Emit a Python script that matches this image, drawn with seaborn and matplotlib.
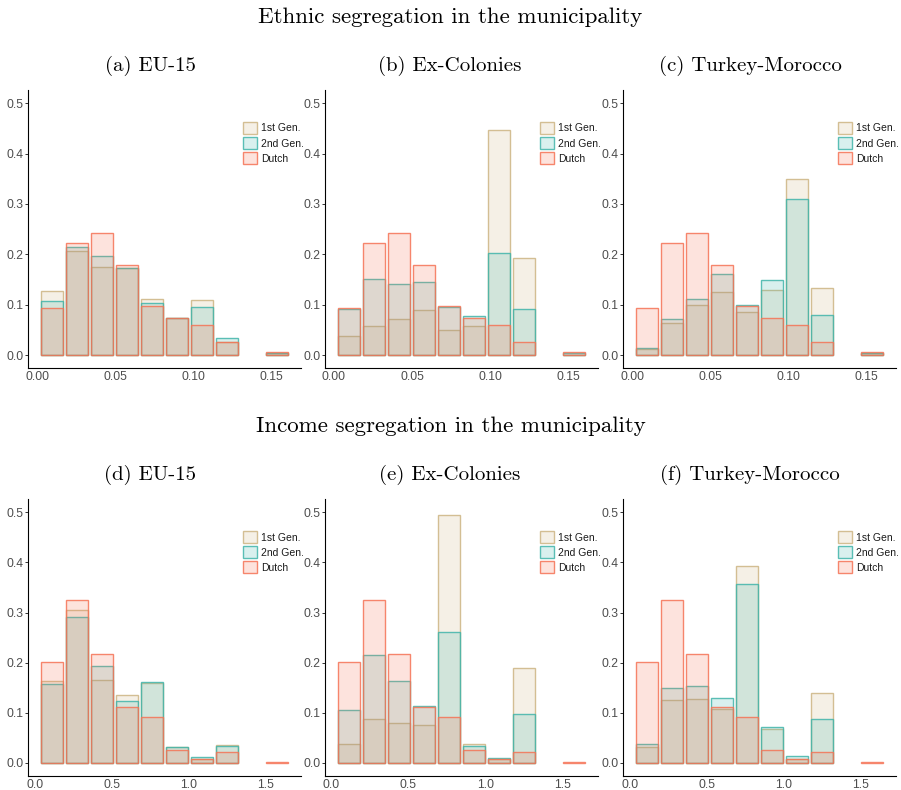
"""Overlaid share histograms: ethnic and income segregation by origin group."""

import matplotlib
matplotlib.use("Agg")
import matplotlib.pyplot as plt
import seaborn as sns
import numpy as np
import pandas as pd
from matplotlib.colors import to_rgba
from matplotlib.patches import Patch

sns.set_style("white")
plt.rcParams['font.family'] = ['Liberation Sans', 'DejaVu Sans']

# Groups and colours
groups = ["1st Gen.", "2nd Gen.", "Dutch"]
group_colors = ["#CDB482", "#41B4AA", "#F57355"]

# Bin midpoints of the segregation index
ethnic_mids = [0.0095, 0.0255, 0.0415, 0.0575, 0.0735, 0.0895, 0.1055, 0.1215, 0.1375, 0.1535]
income_mids = [0.113, 0.2755, 0.438, 0.6005, 0.763, 0.9255, 1.088, 1.2505, 1.413, 1.5755]

# Shares per bin, ethnic segregation
ethnic_dutch = [0.093, 0.222, 0.242, 0.179, 0.097, 0.073, 0.060, 0.027, 0.0, 0.007]
ethnic_eu15_1st = [0.128, 0.207, 0.175, 0.173, 0.112, 0.073, 0.110, 0.027, 0.0, 0.004]
ethnic_eu15_2nd = [0.107, 0.215, 0.197, 0.173, 0.103, 0.074, 0.095, 0.035, 0.0, 0.004]
ethnic_col_1st = [0.038, 0.057, 0.072, 0.090, 0.050, 0.058, 0.446, 0.193, 0.0, 0.001]
ethnic_col_2nd = [0.091, 0.151, 0.142, 0.146, 0.095, 0.077, 0.203, 0.091, 0.0, 0.005]
ethnic_tm_1st = [0.012, 0.064, 0.100, 0.125, 0.085, 0.129, 0.350, 0.133, 0.0, 0.004]
ethnic_tm_2nd = [0.015, 0.072, 0.111, 0.161, 0.099, 0.149, 0.310, 0.079, 0.0, 0.005]

# Shares per bin, income segregation
income_dutch = [0.201, 0.326, 0.217, 0.112, 0.091, 0.026, 0.007, 0.022, 0.0, 0.001]
income_eu15_1st = [0.163, 0.305, 0.165, 0.136, 0.160, 0.032, 0.007, 0.035, 0.0, 0.0]
income_eu15_2nd = [0.158, 0.291, 0.194, 0.124, 0.162, 0.032, 0.011, 0.034, 0.0, 0.0]
income_col_1st = [0.038, 0.087, 0.080, 0.075, 0.495, 0.037, 0.007, 0.189, 0.0, 0.0]
income_col_2nd = [0.106, 0.216, 0.163, 0.113, 0.261, 0.034, 0.009, 0.098, 0.0, 0.0]
income_tm_1st = [0.032, 0.126, 0.128, 0.107, 0.393, 0.068, 0.007, 0.140, 0.0, 0.0]
income_tm_2nd = [0.038, 0.150, 0.153, 0.129, 0.358, 0.072, 0.013, 0.088, 0.0, 0.0]

ethnic_titles = ["(a) EU-15", "(b) Ex-Colonies", "(c) Turkey-Morocco"]
income_titles = ["(d) EU-15", "(e) Ex-Colonies", "(f) Turkey-Morocco"]
row_titles = ["Ethnic segregation in the municipality",
              "Income segregation in the municipality"]

W, H = 901, 790
TITLE_FONT = "cmr10"


def draw_panel(ax, mids, series, xticks, xfmt):
    mids = np.asarray(mids, dtype=float)
    width = mids[1] - mids[0]
    edges = [float(e) for e in np.append(mids - width / 2, mids[-1] + width / 2)]
    for vals, color in zip(series, group_colors):
        df = pd.DataFrame({"mid": mids, "share": vals})
        sns.histplot(data=df, x="mid", weights="share", bins=edges, shrink=0.9,
                     ax=ax, color=color, alpha=0.2,
                     edgecolor=to_rgba(color, 0.85), linewidth=1.0)
    # empty bins are not drawn in the original
    for p in ax.patches:
        if p.get_height() == 0:
            p.set_visible(False)

    span = edges[-1] - edges[0]
    pad = 0.05 * span
    ax.set_xlim(edges[0] + 0.05 * width - pad, edges[-1] - 0.05 * width + pad)
    ax.set_ylim(-0.026, 0.526)
    ax.set_xticks(xticks)
    ax.set_xticklabels([xfmt.format(t) for t in xticks])
    ax.set_yticks([0.0, 0.1, 0.2, 0.3, 0.4, 0.5])
    ax.set_yticklabels([f"{t:.1f}" for t in [0.0, 0.1, 0.2, 0.3, 0.4, 0.5]])
    ax.set_xlabel("")
    ax.set_ylabel("")
    sns.despine(ax=ax)
    for s in ["left", "bottom"]:
        ax.spines[s].set_color("black")
        ax.spines[s].set_linewidth(0.8)
    ax.tick_params(axis="x", length=0, pad=2, labelsize=8.7, labelcolor="#4D4D4D")
    ax.tick_params(axis="y", length=2, width=0.7, color="#333333", pad=1.5,
                   labelsize=8.7, labelcolor="#4D4D4D", left=True)

    handles = [Patch(facecolor=to_rgba(c, 0.2), edgecolor=to_rgba(c, 0.85),
                     linewidth=1.0, label=g) for g, c in zip(groups, group_colors)]
    leg = ax.legend(handles=handles, loc="upper left", bbox_to_anchor=(0.787, 0.885),
                    frameon=False, fontsize=7.5, borderpad=0, borderaxespad=0,
                    handlelength=1.35, handleheight=1.4, labelspacing=0.3,
                    handletextpad=0.4)
    for t in leg.get_texts():
        t.set_color("#1a1a1a")


fig = plt.figure(figsize=(W / 100, H / 100), dpi=100)

col_left = [28.3, 325, 623.3]
ax_w = 272.7
rows = [
    (90, 368.3, ethnic_mids, [ethnic_eu15_1st, ethnic_col_1st, ethnic_tm_1st],
     [ethnic_eu15_2nd, ethnic_col_2nd, ethnic_tm_2nd], ethnic_dutch, ethnic_titles,
     [0.0, 0.05, 0.10, 0.15], "{:.2f}"),
    (499.3, 776, income_mids, [income_eu15_1st, income_col_1st, income_tm_1st],
     [income_eu15_2nd, income_col_2nd, income_tm_2nd], income_dutch, income_titles,
     [0.0, 0.5, 1.0, 1.5], "{:.1f}"),
]

for r, (top, bottom, mids, first, second, dutch, titles, xticks, xfmt) in enumerate(rows):
    for c in range(3):
        ax = fig.add_axes([col_left[c] / W, 1 - bottom / H, ax_w / W, (bottom - top) / H])
        draw_panel(ax, mids, [first[c], second[c], dutch], xticks, xfmt)
        fig.text((150 + 300 * c) / W, 1 - (top - 24) / H, titles[c],
                 family=TITLE_FONT, fontsize=15, color="black",
                 ha="center", va="center")
    fig.text(0.5, 1 - (top - 73) / H, row_titles[r], family=TITLE_FONT,
             fontsize=16.5, color="black", ha="center", va="center")

fig.savefig("out.png", dpi=100)
